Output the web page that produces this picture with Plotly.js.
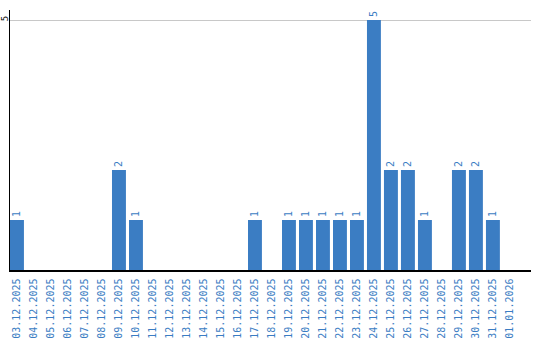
<!DOCTYPE html>
<html><head><meta charset="utf-8">
<script src="https://cdn.plot.ly/plotly-3.0.1.min.js"></script>
<style>html,body{margin:0;padding:0;background:#fff}#c{width:540px;height:340px}</style>
</head><body><div id="c"></div>
<script>
const dates = ["03.12.2025","04.12.2025","05.12.2025","06.12.2025","07.12.2025","08.12.2025","09.12.2025","10.12.2025","11.12.2025","12.12.2025","13.12.2025","14.12.2025","15.12.2025","16.12.2025","17.12.2025","18.12.2025","19.12.2025","20.12.2025","21.12.2025","22.12.2025","23.12.2025","24.12.2025","25.12.2025","26.12.2025","27.12.2025","28.12.2025","29.12.2025","30.12.2025","31.12.2025","01.01.2026"];
const counts = [1,0,0,0,0,0,2,1,0,0,0,0,0,0,1,0,1,1,1,1,1,5,2,2,1,0,2,2,1,0];
const labels = counts.map(v => v > 0 ? String(v) : "");
const blue = "#3b7dc3";
const mono = "DejaVu Sans Mono, monospace";
Plotly.newPlot("c", [{
  type: "bar", x: dates, y: counts, text: labels,
  textposition: "outside", textangle: -90, cliponaxis: false,
  textfont: {family: mono, size: 10, color: blue},
  marker: {color: blue}, width: 0.82, hoverinfo: "none"
}], {
  width: 540, height: 340,
  margin: {l: 10, r: 9, t: 10, b: 70},
  paper_bgcolor: "#fff", plot_bgcolor: "#fff",
  showlegend: false,
  xaxis: {type: "category", range: [-0.41, 30.24], tickangle: -90,
    tickfont: {family: mono, size: 10, color: blue}, ticklabelstandoff: 3,
    showline: true, linecolor: "#000", linewidth: 1.5, showgrid: false, ticks: "", zeroline: false, fixedrange: true},
  yaxis: {range: [0, 5.2], tickvals: [5], ticktext: ["5"], tickangle: -90,
    tickfont: {family: mono, size: 9, color: "#000"}, ticklabelstandoff: -3,
    showline: true, linecolor: "#000", linewidth: 1.5, showgrid: true, gridcolor: "#c8c8c8",
    zeroline: false, ticks: "", ticklen: 0, fixedrange: true}
}, {displayModeBar: false, staticPlot: true});
</script></body></html>
